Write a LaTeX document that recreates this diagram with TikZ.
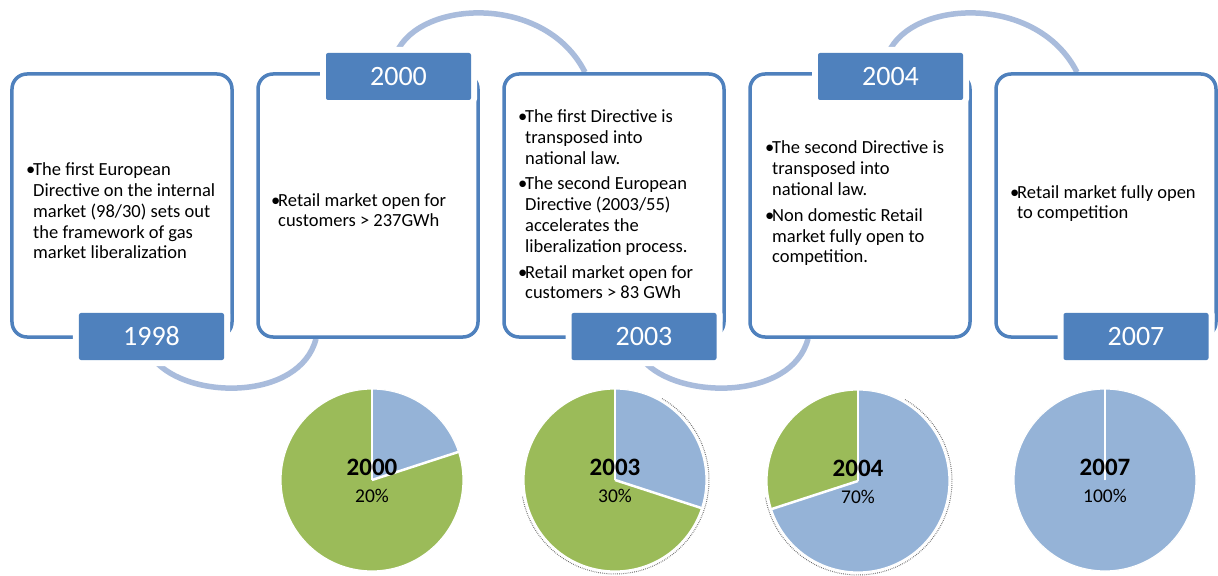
\documentclass[tikz,border=0pt]{standalone}
\usepackage{fontspec}
\setmainfont{Carlito}
\usetikzlibrary{backgrounds}

\definecolor{boxblue}{HTML}{4F81BD}
\definecolor{arcblue}{HTML}{A9BCDC}
\definecolor{pieblue}{HTML}{95B3D7}
\definecolor{piegreen}{HTML}{9BBB59}

% bullet and hanging indent for the card texts
\newcommand{\bul}{\makebox[7bp][l]{\textbullet}}
\newcommand{\ind}{\hspace*{7bp}}

% pie: #1 centre, #2 share (percent) of the blue slice, clockwise from 12 o'clock
\newcommand{\gaspie}[2]{%
  \fill[piegreen] (#1) circle[radius=91];
  \fill[pieblue] (#1) -- ++(-90:91) arc[start angle=-90, delta angle=3.6*#2, radius=91] -- cycle;
  \draw[white, line width=1.2bp] (#1) circle[radius=91];
  \draw[white, line width=2.5bp] (#1) -- ++(-90:91);
  \draw[white, line width=2.5bp] (#1) -- ++(-90+3.6*#2:91);
}
\newcommand{\pieshade}[1]{%
  \draw[black!60, line width=1bp, dash pattern=on 0.7bp off 1.2bp]
    (#1) ++(-60:94) arc[start angle=-60, end angle=170, radius=94];
}

\tikzset{
  card/.style={draw=boxblue, line width=3.5bp, rounded corners=15bp, fill=white,
    minimum width=220bp, minimum height=263bp, inner sep=0pt},
  yearlabel/.style={fill=boxblue, rounded corners=2bp, text=white,
    minimum width=145bp, minimum height=47bp, inner sep=0pt,
    font=\fontsize{28bp}{28bp}\selectfont,
    preaction={draw=white, line width=12bp, sharp corners}},
  cardtext/.style={anchor=base west, inner sep=0pt, align=left,
    font=\fontsize{18.5bp}{20.8bp}\selectfont},
  link/.style={draw=arcblue, line width=5.5bp},
  pieyear/.style={anchor=base, inner sep=0pt, font=\bfseries\fontsize{25bp}{25bp}\selectfont},
  pieshare/.style={anchor=base, inner sep=0pt, font=\fontsize{19.5bp}{19.5bp}\selectfont},
}

\begin{document}
\begin{tikzpicture}[x=1bp, y=-1bp]
\useasboundingbox (0,0) rectangle (1218,576);

% cards
\node[card] (b1) at (122,205.5) {};
\node[card] (b2) at (368,205.5) {};
\node[card] (b3) at (614,205.5) {};
\node[card] (b4) at (860,205.5) {};
\node[card] (b5) at (1106,205.5) {};

% year labels
\node[yearlabel] (y1998) at (151.5,336.5) {1998};
\node[yearlabel] (y2000) at (398.5,76.5) {2000};
\node[yearlabel] (y2003) at (644,336.5) {2003};
\node[yearlabel] (y2004) at (890.5,76.5) {2004};
\node[yearlabel] (y2007) at (1136,336.5) {2007};

% card texts (anchored at the baseline of the last line)
\node[cardtext] (t1) at (26,259) {\bul The first European\\
\ind Directive on the internal\\
\ind market (98/30) sets out\\
\ind the framework of gas\\
\ind market liberalization};

\node[cardtext] (t2) at (271,227) {\bul Retail market open for\\
\ind customers > 237GWh};

\node[cardtext] (t3) at (518,299) {\bul The first Directive is\\
\ind transposed into\\
\ind national law.\\[5bp]
\bul The second European\\
\ind Directive (2003/55)\\
\ind accelerates the\\
\ind liberalization process.\\[5bp]
\bul Retail market open for\\
\ind customers > 83 GWh};

\node[cardtext] (t4) at (765,263) {\bul The second Directive is\\
\ind transposed into\\
\ind national law.\\[5bp]
\bul Non domestic Retail\\
\ind market fully open to\\
\ind competition.};

\node[cardtext] (t5) at (1010,219) {\bul Retail market fully open\\
\ind to competition};

% linking arcs behind the cards
\begin{scope}[on background layer]
\fill[white] (0,0) rectangle (1218,576);
\draw[link] ([xshift=3bp]y1998.south) .. controls +(34,40) and +(-16,62) .. ([xshift=-52bp]b2.south);
\draw[link] ([xshift=-2bp]y2000.north) .. controls +(23,-53) and +(-40,-79) .. ([xshift=-29bp]b3.north);
\draw[link] ([xshift=-1bp]y2003.south) .. controls +(34,40) and +(-16,62) .. ([xshift=-52bp]b4.south);
\draw[link] ([xshift=-2bp]y2004.north) .. controls +(23,-53) and +(-40,-79) .. ([xshift=-29bp]b5.north);
\end{scope}

% pies
\coordinate (c2000) at (372,480);
\coordinate (c2003) at (615,480);
\coordinate (c2004) at (858,481);
\coordinate (c2007) at (1105,480);
\pieshade{c2003}
\pieshade{c2004}
\gaspie{c2000}{20}
\gaspie{c2003}{30}
\gaspie{c2004}{70}
\gaspie{c2007}{100}

\node[pieyear] (py2000) at (372,475) {2000};
\node[pieshare] (ps2000) at (372,502) {20\%};
\node[pieyear] (py2003) at (615,475) {2003};
\node[pieshare] (ps2003) at (615,502) {30\%};
\node[pieyear] (py2004) at (858,476) {2004};
\node[pieshare] (ps2004) at (858,503) {70\%};
\node[pieyear] (py2007) at (1105,475) {2007};
\node[pieshare] (ps2007) at (1105,502) {100\%};
\end{tikzpicture}
\end{document}
